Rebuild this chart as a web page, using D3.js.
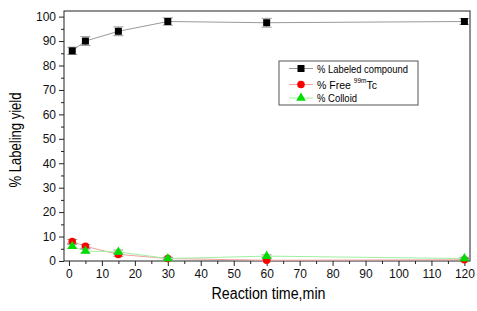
<!DOCTYPE html>
<html>
<head>
<meta charset="utf-8">
<script src="https://cdn.jsdelivr.net/npm/d3@7"></script>
<style>
body { margin: 0; background: #fff; }
text { font-family: Arial, "Liberation Sans", sans-serif; }
</style>
</head>
<body>
<div id="chart"></div>
<script>
// reaction times (min) and yields
const times = [1, 5, 15, 30, 60, 120];
const labeled = [86, 90, 94, 98, 97.5, 98];
const labeledErr = [1.5, 1.8, 1.8, 1.5, 1.8, 1.2];
const freeTc = [8, 6, 2.7, 1, 0.3, 0.5];
const freeErr = [0.8, 0.8, 0.8, 0.5, 0.5, 0.5];
const colloid = [6, 4.1, 3.7, 1, 2, 1];
const colloidErr = [0.8, 0.8, 0.8, 0.5, 0.5, 0.5];
const xTicks = [0, 10, 20, 30, 40, 50, 60, 70, 80, 90, 100, 110, 120];
const yTicks = [0, 10, 20, 30, 40, 50, 60, 70, 80, 90, 100];

const W = 477, H = 311;
const margin = {top: 11, right: 7, bottom: 50, left: 64};
const width = W - margin.left - margin.right;
const height = H - margin.top - margin.bottom;

const svg = d3.select("#chart").append("svg")
	.attr("width", W)
	.attr("height", H)
	.append("g")
	.attr("transform", `translate(${margin.left},${margin.top})`);

const x = d3.scaleLinear().domain([-1.5, 121.7]).range([0, width]);
const y = d3.scaleLinear().domain([0, 102.3]).range([height, 0]);

// minor ticks
const xMinor = d3.range(5, 120, 10);
const yMinor = d3.range(5, 100, 10);

svg.append("g")
	.attr("transform", `translate(0,${height})`)
	.call(d3.axisBottom(x).tickValues(xTicks).tickSize(5).tickPadding(3));
svg.append("g")
	.attr("transform", `translate(0,${height})`)
	.call(d3.axisBottom(x).tickValues(xMinor).tickSize(3).tickFormat(""));
svg.append("g")
	.call(d3.axisLeft(y).tickValues(yTicks).tickSize(5).tickPadding(3));
svg.append("g")
	.call(d3.axisLeft(y).tickValues(yMinor).tickSize(3).tickFormat(""));

svg.selectAll(".domain").remove();
svg.selectAll(".tick line").attr("stroke", "#222");
svg.selectAll(".tick text").attr("font-size", 12).attr("fill", "#111");

// frame
svg.append("rect")
	.attr("x", 0).attr("y", 0)
	.attr("width", width).attr("height", height)
	.attr("fill", "none")
	.attr("stroke", "#222")
	.attr("stroke-width", 1);

const series = [
	{name: "labeled", vals: labeled, err: labeledErr, line: "#9a9a9a", color: "#000", shape: "square"},
	{name: "free", vals: freeTc, err: freeErr, line: "#f4a0a0", color: "#ff0000", shape: "circle"},
	{name: "colloid", vals: colloid, err: colloidErr, line: "#a0f0a0", color: "#00dd00", shape: "triangle"}
];

const line = d3.line()
	.x((d) => x(d[0]))
	.y((d) => y(d[1]));

function drawMarker(g, shape, color, cx, cy) {
	if (shape === "square") {
		g.append("rect").attr("x", cx - 3.5).attr("y", cy - 3.5)
			.attr("width", 7).attr("height", 7).attr("fill", color);
	} else if (shape === "circle") {
		g.append("circle").attr("cx", cx).attr("cy", cy).attr("r", 3.8).attr("fill", color);
	} else {
		g.append("path")
			.attr("d", d3.symbol().type(d3.symbolTriangle).size(40)())
			.attr("transform", `translate(${cx},${cy})`)
			.attr("fill", color);
	}
}

series.forEach((s) => {
	const pts = times.map((t, i) => [t, s.vals[i], s.err[i]]);
	svg.append("path")
		.datum(pts)
		.attr("d", line)
		.attr("fill", "none")
		.attr("stroke", s.line)
		.attr("stroke-width", 1);

	const eb = svg.append("g");
	pts.forEach((p) => {
		const cx = x(p[0]);
		eb.append("line").attr("x1", cx).attr("x2", cx)
			.attr("y1", y(p[1] - p[2])).attr("y2", y(p[1] + p[2]))
			.attr("stroke", "#999");
		[p[1] - p[2], p[1] + p[2]].forEach((v) => {
			eb.append("line").attr("x1", cx - 5).attr("x2", cx + 5)
				.attr("y1", y(v)).attr("y2", y(v))
				.attr("stroke", "#999");
		});
	});
	const mk = svg.append("g");
	pts.forEach((p) => drawMarker(mk, s.shape, s.color, x(p[0]), y(p[1])));
});

// legend
const legend = svg.append("g").attr("transform", `translate(${279 - margin.left},${61 - margin.top})`);
legend.append("rect")
	.attr("width", 139).attr("height", 44)
	.attr("fill", "#fff")
	.attr("stroke", "#555");
const rows = [7.5, 23.5, 37];
series.forEach((s, i) => {
	const ly = rows[i];
	legend.append("line").attr("x1", 10).attr("x2", 34)
		.attr("y1", ly).attr("y2", ly).attr("stroke", s.line);
	drawMarker(legend, s.shape, s.color, 22, ly);
});
function legendText(tx, ty, size, len, str) {
	legend.append("text").attr("x", tx).attr("y", ty)
		.attr("font-size", size)
		.attr("textLength", len)
		.attr("lengthAdjust", "spacingAndGlyphs")
		.text(str);
}
legendText(38, rows[0] + 4, 11.5, 91, "% Labeled compound");
const ft = legend.append("text").attr("x", 38).attr("y", rows[1] + 4).attr("font-size", 10.5);
ft.append("tspan").text("% Free ");
ft.append("tspan").attr("font-size", 6.5).attr("dy", -5.5).text("99m");
ft.append("tspan").attr("dy", 5.5).text("Tc");
legendText(38, rows[2] + 4, 11.5, 40, "% Colloid");

// axis titles
svg.append("text")
	.attr("x", width / 2 + 1.5)
	.attr("y", height + 38)
	.attr("text-anchor", "middle")
	.attr("font-size", 16)
	.attr("textLength", 114)
	.attr("lengthAdjust", "spacingAndGlyphs")
	.text("Reaction time,min");
svg.append("text")
	.attr("transform", `translate(${-43.5},${height / 2 + 4}) rotate(-90)`)
	.attr("text-anchor", "middle")
	.attr("font-size", 16)
	.attr("textLength", 95)
	.attr("lengthAdjust", "spacingAndGlyphs")
	.text("% Labeling yield");
</script>
</body>
</html>
